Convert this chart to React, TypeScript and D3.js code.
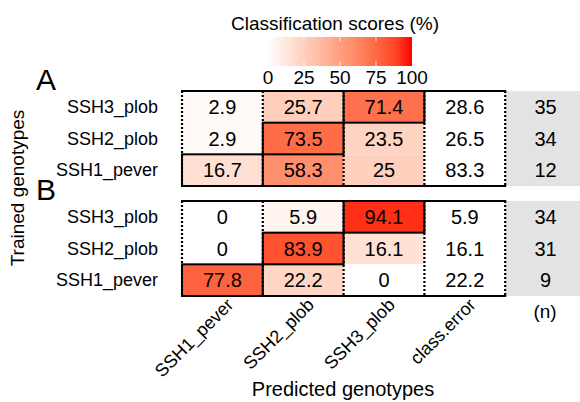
import React from "react";
import * as d3 from "d3";

// rows top to bottom, predicted columns left to right
const rows = ["SSH3_plob", "SSH2_plob", "SSH1_pever"];
const predCols = ["SSH1_pever", "SSH2_plob", "SSH3_plob"];
const allCols = ["SSH1_pever", "SSH2_plob", "SSH3_plob", "class.error", "(n)"];

const scoresA = [
  [2.9, 25.7, 71.4],
  [2.9, 73.5, 23.5],
  [16.7, 58.3, 25],
];
const errorA = [28.6, 26.5, 83.3];
const nA = [35, 34, 12];

const scoresB = [
  [0, 5.9, 94.1],
  [0, 83.9, 16.1],
  [77.8, 22.2, 0],
];
const errorB = [5.9, 16.1, 22.2];
const nB = [34, 31, 9];

const legendTicks = [0, 25, 50, 75, 100];

const FONT = "Liberation Sans, Arial, sans-serif";
const W = 580, H = 402;

const x = d3.scaleBand().domain(allCols).range([182, 586]);
const color = d3.scaleLinear<string>().domain([0, 100]).range(["#ffffff", "#ff0000"]).interpolate(d3.interpolateLab);
const legendX = d3.scaleLinear().domain([0, 100]).range([268, 412]);

function Panel({ label, top, scores, errors, ns }: any) {
  const y = d3.scaleBand().domain(rows).range([top, top + 95]);
  const left = x("SSH1_pever")!;
  const right = x("(n)")!;
  const bw = x.bandwidth(), bh = y.bandwidth();
  const cell = (cx: number, r: string, v: any) => (
    <text x={cx} y={y(r)! + bh / 2} dy="0.36em" textAnchor="middle" fontSize={20} fontFamily={FONT}>{v}</text>
  );
  return (
    <g>
      <text x={36} y={top - 1} fontSize={30} fontFamily={FONT}>{label}</text>
      {/* n column */}
      <rect x={right} y={top} width={bw} height={95} fill="#e3e3e3" />
      {rows.map((r, i) => (
        <g key={r}>
          <text x={158} y={y(r)! + bh / 2} dy="0.35em" textAnchor="end" fontSize={18} fontFamily={FONT}>{r}</text>
          {predCols.map((c, j) => (
            <g key={c}>
              <rect x={x(c)} y={y(r)} width={bw} height={bh} fill={color(scores[i][j])} />
              {cell(x(c)! + bw / 2, r, scores[i][j])}
            </g>
          ))}
          {cell(x("class.error")! + bw / 2, r, errors[i])}
          {cell(right + bw / 2, r, ns[i])}
        </g>
      ))}
      {/* dotted column separators */}
      {allCols.map((c) => (
        <line key={c} x1={x(c)} x2={x(c)} y1={top} y2={top + 95} stroke="#000" strokeWidth={2.2} strokeDasharray="2,2" />
      ))}
      <line x1={left - 1} x2={right + 1} y1={top} y2={top} stroke="#000" strokeWidth={2} />
      <line x1={left - 1} x2={right + 1} y1={top + 95} y2={top + 95} stroke="#000" strokeWidth={2} />
      {/* diagonal cells */}
      {rows.map((r) => (
        <rect key={r} x={x(r)} y={y(r)} width={bw} height={bh} fill="none" stroke="#000" strokeWidth={2} />
      ))}
    </g>
  );
}

export default function App() {
  const stops = d3.range(0, 101, 10);
  return (
    <div style={{ position: "absolute", left: 0, top: 0 }}>
      <svg width={W} height={H} style={{ display: "block", background: "#fff" }}>
        <defs>
          <linearGradient id="lg" x1="0" x2="1" y1="0" y2="0">
            {stops.map((s) => (
              <stop key={s} offset={`${s}%`} stopColor={color(s)} />
            ))}
          </linearGradient>
        </defs>
        <text x={335} y={30} textAnchor="middle" fontSize={19} fontFamily={FONT}>Classification scores (%)</text>
        <rect x={legendX(0)} y={37} width={legendX(100) - legendX(0)} height={29} fill="url(#lg)" />
        {legendTicks.slice(1, -1).map((t) => (
          <g key={t} stroke="#fff" strokeWidth={1} opacity={0.7}>
            <line x1={legendX(t)} x2={legendX(t)} y1={37} y2={42} />
            <line x1={legendX(t)} x2={legendX(t)} y1={61} y2={66} />
          </g>
        ))}
        {legendTicks.map((t) => (
          <text key={t} x={legendX(t)} y={84} textAnchor="middle" fontSize={19} fontFamily={FONT}>{t}</text>
        ))}

        <Panel label="A" top={91} scores={scoresA} errors={errorA} ns={nA} />
        <Panel label="B" top={201} scores={scoresB} errors={errorB} ns={nB} />

        {allCols.slice(0, 4).map((c) => (
          <text key={c} transform={`translate(${x(c)! + x.bandwidth() / 2 + 12},${306}) rotate(-45)`} textAnchor="end" fontSize={18} fontFamily={FONT}>{c}</text>
        ))}
        <text x={x("(n)")! + x.bandwidth() / 2 - 0.5} y={318} textAnchor="middle" fontSize={19} fontFamily={FONT}>(n)</text>

        <text transform={`translate(24,188) rotate(-90)`} textAnchor="middle" fontSize={19} fontFamily={FONT}>Trained genotypes</text>
        <text x={343} y={396} textAnchor="middle" fontSize={20} fontFamily={FONT}>Predicted genotypes</text>
      </svg>
    </div>
  );
}
